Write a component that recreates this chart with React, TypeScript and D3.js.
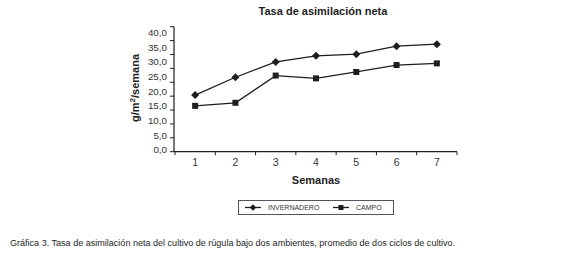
import React from 'react';
import * as d3 from 'd3';

const categories = ['1', '2', '3', '4', '5', '6', '7'];
const invernadero = [20.4, 26.8, 32.3, 34.5, 35.1, 38.0, 38.7];
const campo = [16.5, 17.6, 27.4, 26.4, 28.7, 31.2, 31.8];
const yTickValues = [0, 5, 10, 15, 20, 25, 30, 35, 40, 45];
const yLabelValues = [0, 5, 10, 15, 20, 25, 30, 35, 40];
const seriesNames = ['INVERNADERO', 'CAMPO'];
const title = 'Tasa de asimilación neta';
const xTitle = 'Semanas';
const caption = 'Gráfica 3. Tasa de asimilación neta del cultivo de rúgula bajo dos ambientes, promedio de dos ciclos de cultivo.';

const locale = d3.formatLocale({ decimal: ',', thousands: '.', grouping: [3], currency: ['', ''] });
const fmt = locale.format('.1f');

const FONT = 'Liberation Sans, Arial, sans-serif';
const INK = '#1e1e1e';

const diamondPath = (s: number) => `M0,${-s}L${s},0L0,${s}L${-s},0Z`;

export default function App() {
  const x = d3.scaleBand<string>().domain(categories).range([175, 457]);
  const y = d3.scaleLinear().domain([0, 45]).range([151.7, 26.7]);
  const yLab = d3.scaleLinear().domain([0, 40]).range([150, 32.5]);
  const cx = (i: number) => (x(categories[i]) as number) + x.bandwidth() / 2;
  const line = d3
    .line<number>()
    .x((_, i) => cx(i))
    .y((d) => y(d));
  const square = d3.symbol().type(d3.symbolSquare).size(36)() as string;
  const xTickPositions = [...categories.map((c) => x(c) as number), x.range()[1]];

  return (
    <svg
      width={570}
      height={255}
      style={{ position: 'absolute', left: 0, top: 0, background: '#fff' }}
      fontFamily={FONT}
    >
      <rect width={570} height={255} fill="#fff" />
      <text x={323} y={15} textAnchor="middle" fontSize={11} fontWeight="bold" fill={INK}>
        {title}
      </text>

      {/* y axis */}
      <line x1={174} x2={174} y1={y(45)} y2={y(0)} stroke={INK} strokeWidth={1.2} />
      {yTickValues.map((v) => (
        <line key={v} x1={170} x2={174} y1={y(v)} y2={y(v)} stroke={INK} strokeWidth={1} />
      ))}
      {yLabelValues.map((v) => (
        <text key={v} x={167} y={yLab(v)} dy="0.35em" textAnchor="end" fontSize={9.8} fill="#333">
          {fmt(v)}
        </text>
      ))}
      <text
        transform="translate(139,88) rotate(-90)"
        textAnchor="middle"
        fontSize={11}
        fontWeight="bold"
        fill={INK}
      >
        g/m<tspan dy={-4} fontSize={8}>2</tspan>
        <tspan dy={4}>/semana</tspan>
      </text>

      {/* x axis */}
      <line x1={174} x2={x.range()[1]} y1={y(0)} y2={y(0)} stroke={INK} strokeWidth={1.2} />
      {xTickPositions.map((p, i) => (
        <line key={i} x1={p} x2={p} y1={y(0)} y2={y(0) + 3.5} stroke={INK} strokeWidth={1} />
      ))}
      {categories.map((c, i) => (
        <text key={c} x={cx(i)} y={162.5} dy="0.35em" textAnchor="middle" fontSize={10.5} fill="#333">
          {c}
        </text>
      ))}
      <text x={316} y={184} textAnchor="middle" fontSize={11} fontWeight="bold" fill={INK}>
        {xTitle}
      </text>

      {/* series */}
      <path d={line(invernadero) as string} fill="none" stroke={INK} strokeWidth={1.3} />
      <path d={line(campo) as string} fill="none" stroke={INK} strokeWidth={1.3} />
      {invernadero.map((v, i) => (
        <path key={i} d={diamondPath(4)} transform={`translate(${cx(i)},${y(v)})`} fill={INK} />
      ))}
      {campo.map((v, i) => (
        <path key={i} d={square} transform={`translate(${cx(i)},${y(v)})`} fill={INK} />
      ))}

      {/* legend */}
      <rect x={238.5} y={200.5} width={155} height={14} fill="#fff" stroke="#555" strokeWidth={1} />
      <line x1={245} x2={261} y1={207.5} y2={207.5} stroke={INK} strokeWidth={1.3} />
      <path d={diamondPath(3.2)} transform="translate(253,207.5)" fill={INK} />
      <text x={268} y={210} fontSize={7} fill="#333">
        {seriesNames[0]}
      </text>
      <line x1={333} x2={349} y1={207.5} y2={207.5} stroke={INK} strokeWidth={1.3} />
      <path d={d3.symbol().type(d3.symbolSquare).size(25)() as string} transform="translate(341,207.5)" fill={INK} />
      <text x={356} y={210} fontSize={7} fill="#333">
        {seriesNames[1]}
      </text>

      {/* caption */}
      <text x={10} y={246} fontSize={8.5} fill={INK} textLength={445} lengthAdjust="spacingAndGlyphs">
        {caption}
      </text>
    </svg>
  );
}
